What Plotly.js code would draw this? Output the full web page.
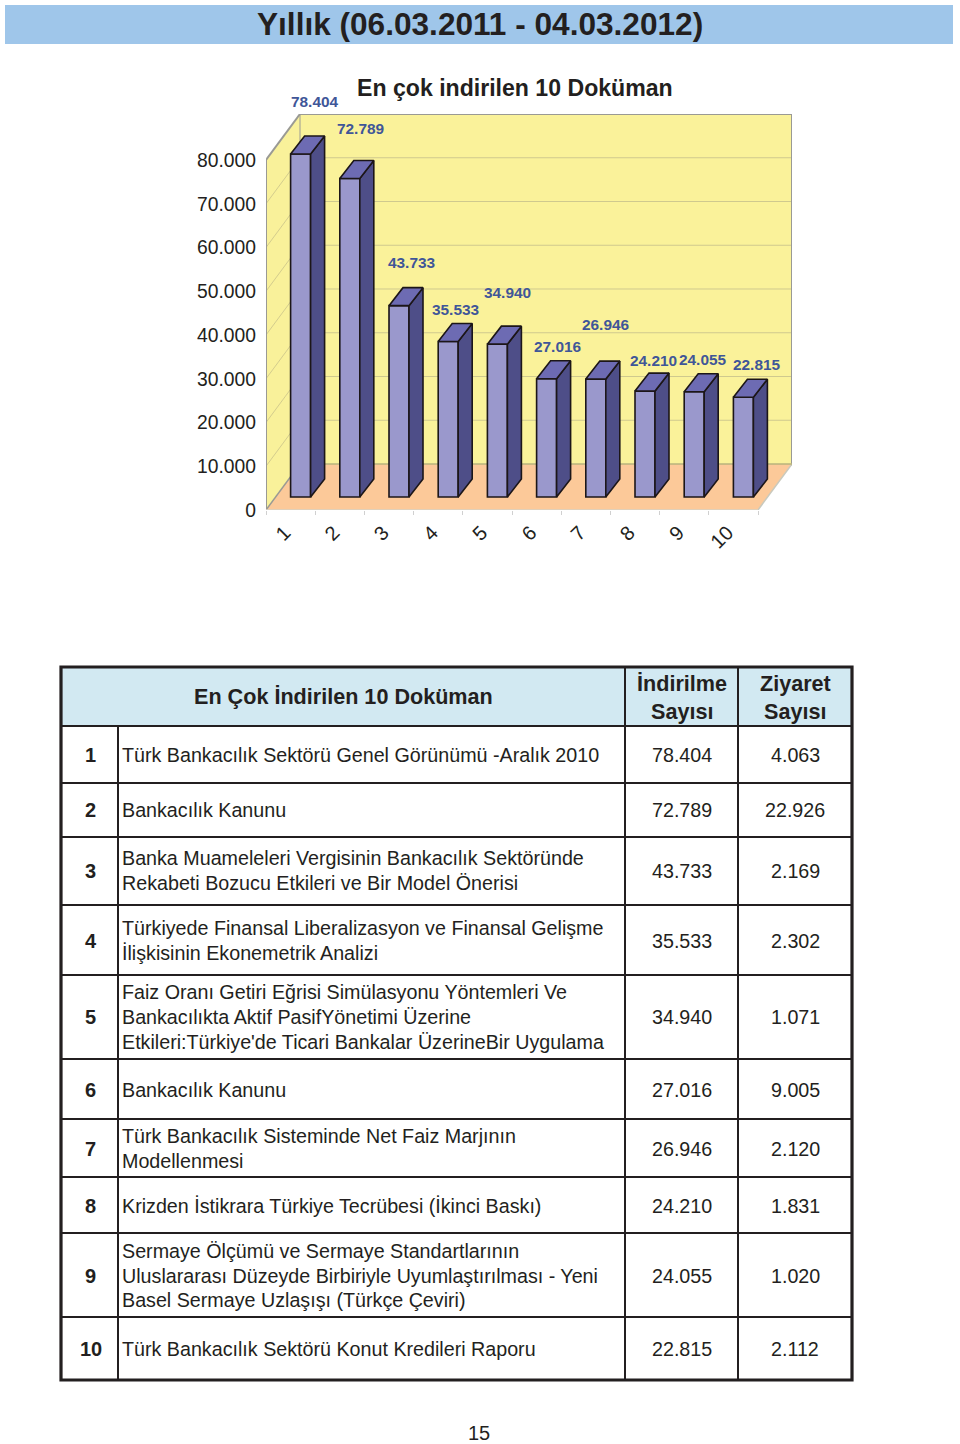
<!DOCTYPE html>
<html><head><meta charset="utf-8">
<script src="https://cdn.plot.ly/plotly-3.0.1.min.js"></script>
<style>html,body{margin:0;padding:0;background:#fff}#c{width:960px;height:1444px}</style>
</head><body><div id="c"></div>
<script>
// ---- data ----
const categories = [1,2,3,4,5,6,7,8,9,10];
const downloads = [78404,72789,43733,35533,34940,27016,26946,24210,24055,22815];
const visits = [4063,22926,2169,2302,1071,9005,2120,1831,1020,2112];
const yTicks = [0,10000,20000,30000,40000,50000,60000,70000,80000];
const documents = [
 "Türk Bankacılık Sektörü Genel Görünümü -Aralık 2010",
 "Bankacılık Kanunu",
 "Banka Muameleleri Vergisinin Bankacılık Sektöründe\nRekabeti Bozucu Etkileri ve Bir Model Önerisi",
 "Türkiyede Finansal Liberalizasyon ve Finansal Gelişme\nİlişkisinin Ekonemetrik Analizi",
 "Faiz Oranı Getiri Eğrisi Simülasyonu Yöntemleri Ve\nBankacılıkta Aktif PasifYönetimi Üzerine\nEtkileri:Türkiye'de Ticari Bankalar ÜzerineBir Uygulama",
 "Bankacılık Kanunu",
 "Türk Bankacılık Sisteminde Net Faiz Marjının\nModellenmesi",
 "Krizden İstikrara Türkiye Tecrübesi (İkinci Baskı)",
 "Sermaye Ölçümü ve Sermaye Standartlarının\nUluslararası Düzeyde Birbiriyle Uyumlaştırılması - Yeni\nBasel Sermaye Uzlaşışı (Türkçe Çeviri)",
 "Türk Bankacılık Sektörü Konut Kredileri Raporu"
];
const pageTitle = "Yıllık (06.03.2011 - 04.03.2012)";
const chartTitle = "En çok indirilen 10 Doküman";
const tableHeader = "En Çok İndirilen 10 Doküman";
const col2Header = ["İndirilme","Sayısı"];
const col3Header = ["Ziyaret","Sayısı"];
const pageNumber = "15";

// ---- layout constants (pixels on the page) ----
const W=960,H=1444;
const plotL=266,plotR=792,plotT=114,plotB=510;
const pxPerCat=49.2,pxPerUnit=350/80000;
const wallDx=34/pxPerCat,wallDy=46/pxPerUnit;
const barDx=14/pxPerCat,barDy=18/pxPerUnit;
const barShift=10/pxPerCat,barBase=13/pxPerUnit,barW=20/pxPerCat;
const xMin=0.5,xMax=0.5+(plotR-plotL)/pxPerCat,yMax=(plotB-plotT)/pxPerUnit;
const xFront=xMin+10*1; // right end of the front floor edge
const labelDx=[14,11,12,7,10,11,10,8,9,14];
const labelDy=[52,50,43,32,52,32,55,31,32,33];
const rowLines=[726,783,837,905,975,1059,1119,1177,1233,1317];
const rowMid=[755,810,870.5,940.5,1017,1090,1148.5,1206,1275.5,1349];
const lineGap=24.6;
const tblL=61,tblR=852,tblT=667,tblB=1380,col1=118,col2=625,col3=738;
const ink="#231f20",font="Liberation Sans, Arial, sans-serif";

const px=x=>x/W, py=y=>1-y/H;
const fmt=n=>n>=1000?Math.floor(n/1000)+"."+String(n%1000).padStart(3,"0"):String(n);

// ---- 3D bar faces, derived from the data through the axes ----
const bx=categories.map(c=>c+barShift);
const side={x:[],y:[]},top_={x:[],y:[]};
bx.forEach((c,i)=>{
  const r=c+barW/2,l=c-barW/2,t=barBase+downloads[i],b=barBase;
  side.x.push(r,r+barDx,r+barDx,r,r,null);
  side.y.push(b,b+barDy,t+barDy,t,b,null);
  top_.x.push(l,l+barDx,r+barDx,r,l,null);
  top_.y.push(t,t+barDy,t+barDy,t,t,null);
});
const edge={color:"#1c1618",width:1.6};
const traces=[
 {type:"bar",x:bx,y:downloads,base:barBase,width:barW,marker:{color:"#9a98cc",line:edge},hoverinfo:"skip"},
 {type:"scatter",mode:"lines",x:side.x,y:side.y,fill:"toself",fillcolor:"#4e4e88",line:edge,hoverinfo:"skip"},
 {type:"scatter",mode:"lines",x:top_.x,y:top_.y,fill:"toself",fillcolor:"#6d6bb3",line:edge,hoverinfo:"skip"}
];

// ---- walls ----
const shapes=[];
const poly=(pts,fill,lineCol,lw)=>({type:"path",layer:"below",xref:"x",yref:"y",
  path:"M"+pts.map(p=>p[0]+","+p[1]).join("L")+"Z",fillcolor:fill,line:{color:lineCol||"rgba(0,0,0,0)",width:lw||0}});
const seg=(x0,y0,x1,y1,c,w)=>({type:"line",layer:"below",xref:"x",yref:"y",x0,y0,x1,y1,line:{color:c,width:w}});
const yT=80000;
shapes.push(poly([[xMin+wallDx,wallDy],[xMax,wallDy],[xMax,yMax],[xMin+wallDx,yMax]],"#faf29a"));
shapes.push(poly([[xMin,0],[xMin+wallDx,wallDy],[xMin+wallDx,yMax],[xMin,yT]],"#f9f19a"));
shapes.push(poly([[xMin,0],[xFront,0],[xMax,wallDy],[xMin+wallDx,wallDy]],"#fcc999"));
yTicks.slice(1,-1).forEach(v=>{
  shapes.push(seg(xMin,v,xMin+wallDx,v+wallDy,"#c9c38a",0.8));
  shapes.push(seg(xMin+wallDx,v+wallDy,xMax,v+wallDy,"#cfc98e",1));
});
const grey="#9a9a94";
shapes.push(seg(xMin,0,xMin,yT,grey,2));
shapes.push(seg(xMin,yT,xMin+wallDx,yMax,grey,2));
shapes.push(seg(xMin+wallDx,yMax,xMax,yMax,grey,2));
shapes.push(seg(xMax,yMax,xMax,wallDy,grey,2));
shapes.push(seg(xMax,wallDy,xFront,0,"#c9c9bd",1.5));
shapes.push(seg(xMin,0,xMin+wallDx,wallDy,grey,1.5));
shapes.push(seg(xMin+wallDx,wallDy,xMin+wallDx,yMax,grey,1));
shapes.push(seg(xMin+wallDx,wallDy,xMax,wallDy,"#b8b37c",1.5));
shapes.push(seg(xMin,0,xFront,0,"#d8d2c4",1.5));

// ---- page shapes ----
const rect=(x0,y0,x1,y1,fill,lc,lw)=>({type:"rect",xref:"paper",yref:"paper",layer:"above",
  x0:px(x0),x1:px(x1),y0:py(y0),y1:py(y1),fillcolor:fill,line:{color:lc||"rgba(0,0,0,0)",width:lw||0}});
const ln=(x0,y0,x1,y1,w)=>({type:"line",xref:"paper",yref:"paper",layer:"above",
  x0:px(x0),x1:px(x1),y0:py(y0),y1:py(y1),line:{color:ink,width:w}});
shapes.push(rect(5,5,953,44,"#9fc6ea"));
shapes.push(rect(tblL,tblT,tblR,726,"#d2e9f2"));
rowLines.forEach(y=>shapes.push(ln(tblL,y,tblR,y,2)));
shapes.push(ln(col1,726,col1,tblB,2));
shapes.push(ln(col2,tblT,col2,tblB,2));
shapes.push(ln(col3,tblT,col3,tblB,2));
shapes.push(rect(tblL,tblT,tblR,tblB,"rgba(0,0,0,0)",ink,3.2));

// ---- text ----
const ann=[];
const T=(text,x,y,size,bold,anchor,color)=>ann.push({xref:"paper",yref:"paper",x:px(x),y:py(y),text:bold?"<b>"+text+"</b>":text,
  showarrow:false,xanchor:anchor||"center",yanchor:"middle",borderpad:0,
  font:{family:font,size:size,color:color||ink}});
T(pageTitle,479.5,24,31.6,true);
T(chartTitle,515,88,23.1,true);
bx.forEach((c,i)=>ann.push({xref:"x",yref:"y",x:c,y:barBase+downloads[i],text:"<b>"+fmt(downloads[i])+"</b>",
  showarrow:false,xanchor:"center",yanchor:"middle",xshift:labelDx[i],yshift:labelDy[i],borderpad:0,
  font:{family:font,size:15.4,color:"#3f5698"}}));
T(tableHeader,343.5,696,21.6,true);
T(col2Header[0],682,683.5,21.6,true);T(col2Header[1],682,711,21.6,true);
T(col3Header[0],795,683.5,21.6,true);T(col3Header[1],795,711,21.6,true);
documents.forEach((d,i)=>{
  const m=rowMid[i];
  T(String(categories[i]),90.5,m,20,true);
  const ls=d.split("\n");
  ls.forEach((s,k)=>T(s,120.5,m+(k-(ls.length-1)/2)*lineGap,19.7,false,"left"));
  T(fmt(downloads[i]),681.5,m,19.7);
  T(fmt(visits[i]),795,m,19.7);
});
T(pageNumber,479,1433,20);

const layout={width:W,height:H,margin:{l:0,r:0,t:0,b:0},paper_bgcolor:"#fff",plot_bgcolor:"rgba(0,0,0,0)",
  showlegend:false,barmode:"overlay",shapes:shapes,annotations:ann,
  xaxis:{domain:[px(plotL),px(plotR)],range:[xMin,xMax],tickmode:"array",
    tickvals:categories.map(c=>c-0.12),ticktext:categories.map(String),tickangle:-45,ticks:"",showgrid:false,zeroline:false,showline:false,
    tickfont:{family:font,size:20,color:ink},ticklabelstandoff:6,
    minor:{tickmode:"array",tickvals:categories.map(c=>c-0.5).concat([10.5]),ticks:"outside",ticklen:4,tickcolor:"#d0d0d0",tickwidth:1,showgrid:false}},
  yaxis:{domain:[py(plotB),py(plotT)],range:[0,yMax],tickmode:"array",tickvals:yTicks,ticktext:yTicks.map(fmt),
    ticks:"",showgrid:false,zeroline:false,showline:false,ticklabelstandoff:9,
    tickfont:{family:font,size:19.3,color:ink}}
};
Plotly.newPlot("c",traces,layout,{displayModeBar:false,staticPlot:true});
</script></body></html>
